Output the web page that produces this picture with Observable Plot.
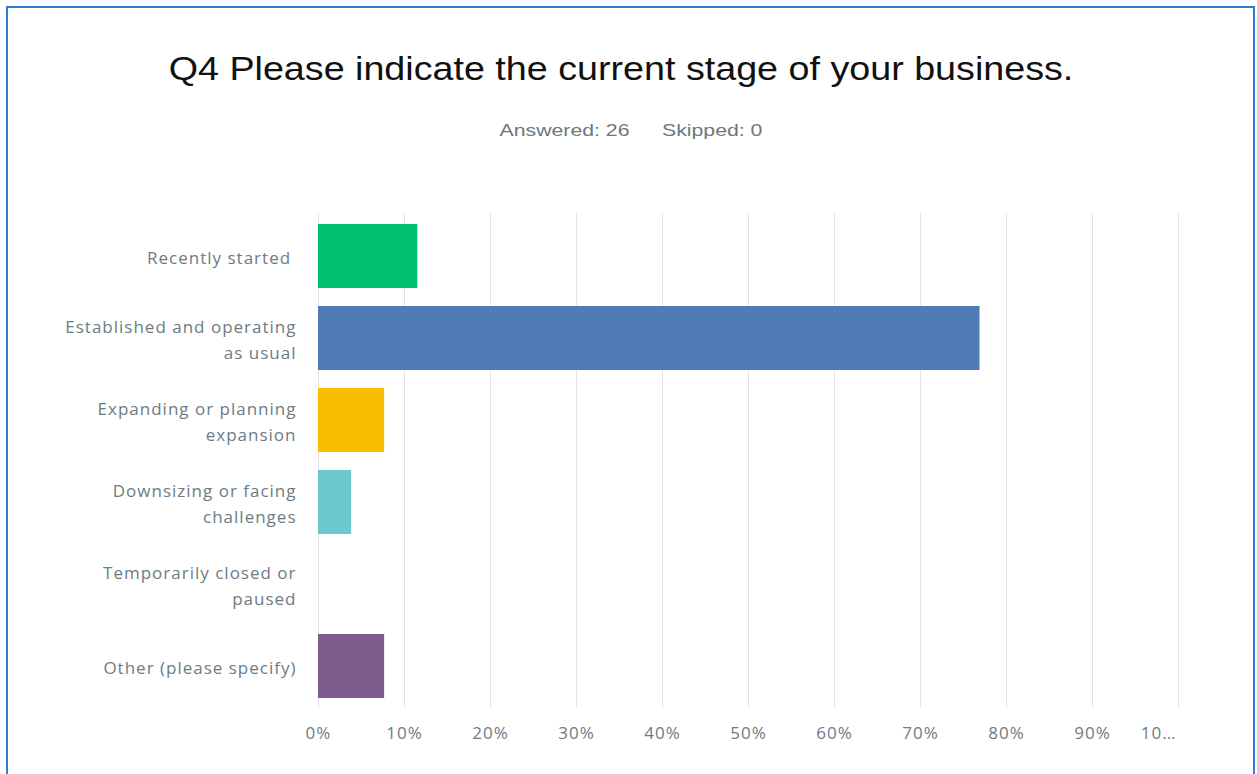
<!DOCTYPE html>
<html>
<head>
<meta charset="utf-8">
<script src="https://cdn.jsdelivr.net/npm/d3@7"></script>
<script src="https://cdn.jsdelivr.net/npm/@observablehq/plot@0.6"></script>
<style>
  html, body { margin: 0; padding: 0; background: #fff; }
  #page { position: relative; width: 1257px; height: 774px; overflow: hidden; }
  #frame { position: absolute; left: 6px; top: 6px; width: 1249px; height: 800px; border: 2px solid #2d7fd2; box-sizing: border-box; }
  #title { position: absolute; left: 0; top: 46px; width: 1242px; text-align: center; font-family: "Liberation Sans", Arial, sans-serif; font-size: 34px; line-height: 44px; color: #111; transform: scaleX(1.108); transform-origin: 621px 0; }
  #subtitle { position: absolute; left: 0; top: 120px; width: 1262px; text-align: center; font-family: "Liberation Sans", Arial, sans-serif; font-size: 17px; line-height: 22px; color: #6b7880; transform: scaleX(1.25); transform-origin: 631px 0; }
  #subtitle span + span { margin-left: 26px; }
  #chart { position: absolute; left: 0; top: 190px; }
</style>
</head>
<body>
<div id="page">
  <div id="frame"></div>
  <div id="title">Q4 Please indicate the current stage of your business.</div>
  <div id="subtitle"><span>Answered: 26</span><span>Skipped: 0</span></div>
  <div id="chart"></div>
</div>
<script>
const categories = [
  "Recently started",
  "Established and operating as usual",
  "Expanding or planning expansion",
  "Downsizing or facing challenges",
  "Temporarily closed or paused",
  "Other (please specify)"
];
const categoryLabels = [
  "Recently started ",
  "Established and operating\nas usual",
  "Expanding or planning\nexpansion",
  "Downsizing or facing\nchallenges",
  "Temporarily closed or\npaused",
  "Other (please specify)"
];
const percents = [11.54, 76.92, 7.69, 3.85, 0, 7.69];
const barColors = ["#00bf6f", "#507cb6", "#f9be00", "#6bc8cd", "#ff8b4f", "#7d5b8c"];
const xTicks = [0, 10, 20, 30, 40, 50, 60, 70, 80, 90, 100];
const xTickLabels = ["0%", "10%", "20%", "30%", "40%", "50%", "60%", "70%", "80%", "90%", "10…"];

const rows = categories.map((c, i) => ({category: c, value: percents[i], color: barColors[i]}));
const textColor = "#6d7b83";

const chart = Plot.plot({
  width: 1257,
  height: 584,
  marginTop: 23,
  marginBottom: 66,
  marginLeft: 318,
  marginRight: 79,
  style: {fontFamily: "'Open Sans', sans-serif", fontSize: "17px", letterSpacing: "1px", background: "transparent"},
  x: {domain: [0, 100], label: null},
  y: {domain: categories, paddingInner: 0.22, paddingOuter: 0.12, label: null},
  marks: [
    Plot.ruleX(xTicks, {x: d => d, stroke: "#e4e4e4", strokeWidth: 1}),
    Plot.barX(rows, {y: "category", x: "value", fill: "color"}),
    Plot.axisY({
      label: null,
      tickSize: 0,
      tickPadding: 22,
      fontSize: 17,
      lineHeight: 1.53,
      dy: -1,
      fill: textColor,
      tickFormat: d => categoryLabels[categories.indexOf(d)]
    }),
    Plot.axisX(xTicks.slice(0, 10), {
      label: null,
      tickSize: 0,
      tickPadding: 18,
      fontSize: 17,
      fill: textColor,
      tickFormat: d => xTickLabels[xTicks.indexOf(d)]
    }),
    Plot.text(xTicks.slice(10), {
      x: d => d,
      frameAnchor: "bottom",
      dy: 30,
      dx: -2,
      textAnchor: "end",
      fontSize: 17,
      fill: textColor,
      text: d => xTickLabels[xTicks.indexOf(d)]
    })
  ]
});
document.getElementById("chart").appendChild(chart);
</script>
</body>
</html>
